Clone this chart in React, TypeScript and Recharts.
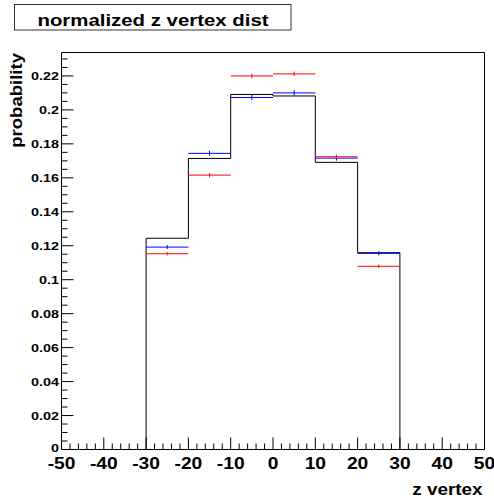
import React from 'react';
import { ComposedChart, Line, Scatter, ErrorBar, XAxis, YAxis, ReferenceArea } from 'recharts';

const binCenters = [-25, -15, -5, 5, 15, 25];
const binEdges = [-50, -30, -20, -10, 0, 10, 20, 30, 50];
const blackVals = [0.1244, 0.1714, 0.2091, 0.2082, 0.1691, 0.1159];
const blueVals = [0.1192, 0.1744, 0.2073, 0.21, 0.1716, 0.1155];
const redVals = [0.1153, 0.1616, 0.22, 0.2212, 0.1724, 0.1079];
const blueErr = [0.0012, 0.0015, 0.0016, 0.0016, 0.0015, 0.0012];
const redErr = [0.001, 0.0012, 0.0013, 0.0013, 0.0012, 0.001];
const binHalfWidth = 5;

const xMajorTicks = [-50, -40, -30, -20, -10, 0, 10, 20, 30, 40, 50];
const xTickLabels = ['-50', '-40', '-30', '-20', '-10', '0', '10', '20', '30', '40', '50'];
const yMajorTicks = [0, 0.02, 0.04, 0.06, 0.08, 0.1, 0.12, 0.14, 0.16, 0.18, 0.2, 0.22];
const yTickLabels = ['0', '0.02', '0.04', '0.06', '0.08', '0.1', '0.12', '0.14', '0.16', '0.18', '0.2', '0.22'];
const X_MIN = -50;
const X_MAX = 50;
const Y_MAX = 0.2338;
const X_MINOR_STEP = 2;
const Y_MINOR_STEP = 0.005;

const xAllTicks: number[] = [];
for (let i = 0; i <= Math.round((X_MAX - X_MIN) / X_MINOR_STEP); i++) xAllTicks.push(X_MIN + i * X_MINOR_STEP);
const yAllTicks: number[] = [];
for (let i = 0; i * Y_MINOR_STEP <= Y_MAX + 1e-9; i++) yAllTicks.push(+(i * Y_MINOR_STEP).toFixed(4));

const stepVals = [0, ...blackVals, 0, 0];
const stepData = binEdges.map((x, i) => ({ x, y: stepVals[i] }));
const blueData = binCenters.map((x, i) => ({ x, y: blueVals[i], ex: binHalfWidth, ey: blueErr[i] }));
const redData = binCenters.map((x, i) => ({ x, y: redVals[i], ex: binHalfWidth, ey: redErr[i] }));

const FONT = '"Liberation Sans", Arial, Helvetica, sans-serif';

const XTick = (props: any) => {
  const { x, y, payload } = props;
  const idx = xMajorTicks.findIndex((t) => Math.abs(t - payload.value) < 1e-9);
  const major = idx >= 0;
  return (
    <g>
      <line x1={x} x2={x} y1={y} y2={y - (major ? 12 : 6)} stroke="#000" strokeWidth={1} />
      {major && (
        <text
          transform={`translate(${x},${y + 19}) scale(1.2,1)`}
          textAnchor="middle"
          fontFamily={FONT}
          fontWeight="bold"
          fontSize={16}
          fill="#000"
        >
          {xTickLabels[idx]}
        </text>
      )}
    </g>
  );
};

const YTick = (props: any) => {
  const { x, y, payload } = props;
  const idx = yMajorTicks.findIndex((t) => Math.abs(t - payload.value) < 1e-9);
  const major = idx >= 0;
  const dy = idx === 0 ? 2.5 : 4;
  return (
    <g>
      <line x1={x} x2={x + (major ? 12 : 6)} y1={y} y2={y} stroke="#000" strokeWidth={1} />
      {major && (
        <text
          transform={`translate(${x - 2.5},${y + dy}) scale(1.25,1)`}
          textAnchor="end"
          fontFamily={FONT}
          fontWeight="bold"
          fontSize={11.5}
          fill="#000"
        >
          {yTickLabels[idx]}
        </text>
      )}
    </g>
  );
};

const NoShape = () => <g />;

export default function App() {
  return (
    <div style={{ position: 'absolute', left: 0, top: 0, width: 494, height: 500, background: '#fff' }}>
      <ComposedChart
        width={494}
        height={500}
        margin={{ top: 52.5, right: 9.5, bottom: 0, left: 0 }}
        style={{ position: 'absolute', left: 0, top: 0 }}
      >
        <XAxis
          type="number"
          dataKey="x"
          domain={[X_MIN, X_MAX]}
          ticks={xAllTicks}
          interval={0}
          allowDataOverflow
          height={50.5}
          tickSize={0}
          tickMargin={0}
          tickLine={false}
          axisLine={false}
          tick={(p: any) => <XTick {...p} />}
        />
        <YAxis
          type="number"
          dataKey="y"
          domain={[0, Y_MAX]}
          ticks={yAllTicks}
          interval={0}
          allowDataOverflow
          width={61.5}
          tickSize={0}
          tickMargin={0}
          tickLine={false}
          axisLine={false}
          tick={(p: any) => <YTick {...p} />}
        />
        <Line
          data={stepData}
          dataKey="y"
          type="stepAfter"
          stroke="#000"
          strokeWidth={1}
          dot={false}
          activeDot={false}
          isAnimationActive={false}
        />
        <Scatter data={blueData} dataKey="y" shape={NoShape} isAnimationActive={false}>
          <ErrorBar dataKey="ex" direction="x" width={0} stroke="#0000ff" strokeWidth={1} isAnimationActive={false} />
          <ErrorBar dataKey="ey" direction="y" width={0} stroke="#0000ff" strokeWidth={1} isAnimationActive={false} />
        </Scatter>
        <Scatter data={redData} dataKey="y" shape={NoShape} isAnimationActive={false}>
          <ErrorBar dataKey="ex" direction="x" width={0} stroke="#ff0000" strokeWidth={1} isAnimationActive={false} />
          <ErrorBar dataKey="ey" direction="y" width={0} stroke="#ff0000" strokeWidth={1} isAnimationActive={false} />
        </Scatter>
        <ReferenceArea x1={X_MIN} x2={X_MAX} y1={0} y2={Y_MAX} fill="none" fillOpacity={0} stroke="#000" strokeWidth={1} />
      </ComposedChart>
      <svg width={494} height={500} style={{ position: 'absolute', left: 0, top: 0, pointerEvents: 'none' }}>
        <rect x={14.5} y={4.5} width={276.5} height={25.5} fill="none" stroke="#333" strokeWidth={1} />
        <text
          transform="translate(153,25.5) scale(1.2,1)"
          textAnchor="middle"
          fontFamily={FONT}
          fontWeight="bold"
          fontSize={17}
          fill="#000"
        >
          normalized z vertex dist
        </text>
        <text
          transform="translate(482.5,495) scale(1.18,1)"
          textAnchor="end"
          fontFamily={FONT}
          fontWeight="bold"
          fontSize={16}
          fill="#000"
        >
          z vertex
        </text>
        <text
          transform="translate(21.5,53) rotate(-90) scale(1.16,1)"
          textAnchor="end"
          fontFamily={FONT}
          fontWeight="bold"
          fontSize={16}
          fill="#000"
        >
          probability
        </text>
      </svg>
    </div>
  );
}
